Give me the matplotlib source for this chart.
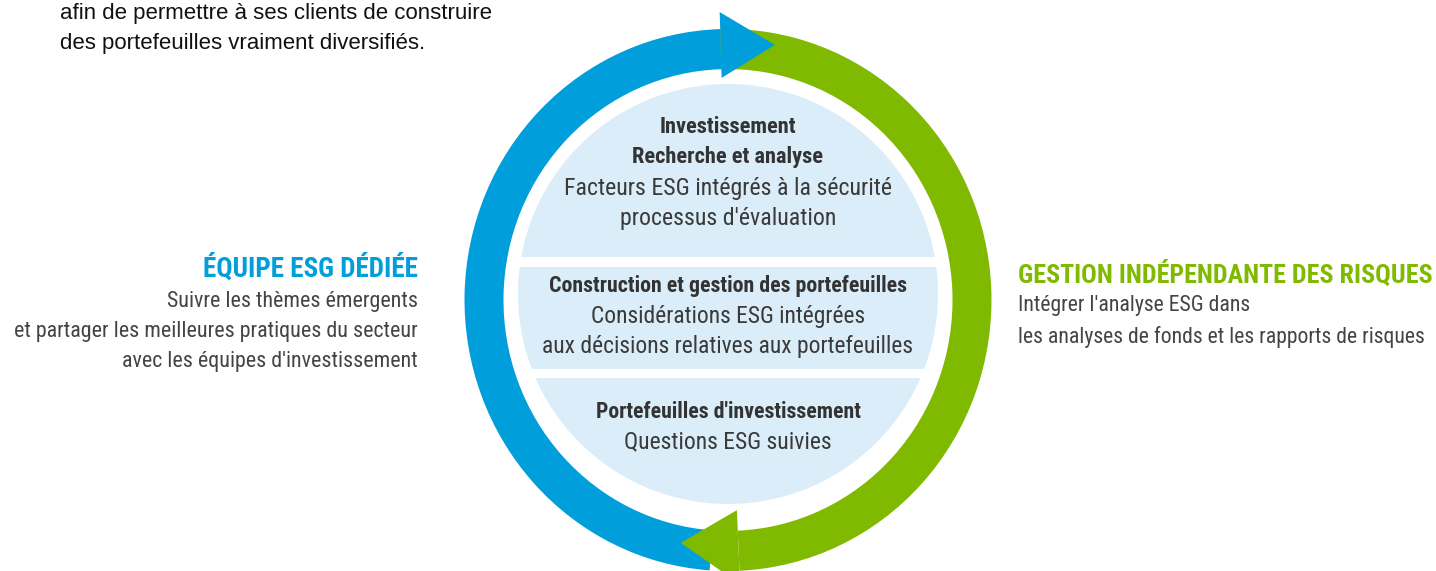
import matplotlib
matplotlib.use("Agg")
import matplotlib.pyplot as plt
from matplotlib import font_manager
from matplotlib.patches import Wedge, Polygon, Circle, Rectangle
from matplotlib.transforms import Affine2D
import numpy as np

W, H = 1436, 571

# texts of the diagram
intro_lines = ["afin de permettre à ses clients de construire",
               "des portefeuilles vraiment diversifiés."]
left_title = "ÉQUIPE ESG DÉDIÉE"
left_lines = ["Suivre les thèmes émergents",
              "et partager les meilleures pratiques du secteur",
              "avec les équipes d'investissement"]
right_title = "GESTION INDÉPENDANTE DES RISQUES"
right_lines = ["Intégrer l'analyse ESG dans",
               "les analyses de fonds et les rapports de risques"]
stage_titles = [["Investissement", "Recherche et analyse"],
                ["Construction et gestion des portefeuilles"],
                ["Portefeuilles d'investissement"]]
stage_texts = [["Facteurs ESG intégrés à la sécurité", "processus d'évaluation"],
               ["Considérations ESG intégrées", "aux décisions relatives aux portefeuilles"],
               ["Questions ESG suivies"]]

BLUE = "#009fdb"
GREEN = "#80ba00"
LIGHT = "#daedf8"
DARK = "#3a3a3a"

names = {f.name for f in font_manager.fontManager.ttflist}
cond = "DejaVu Sans"
for c in ["Roboto Condensed", "Liberation Sans Narrow", "DejaVu Sans Condensed", "Roboto"]:
    if c in names:
        cond = c
        break

fig = plt.figure(figsize=(W / 100, H / 100), dpi=100)
ax = fig.add_axes([0, 0, 1, 1])
ax.set_xlim(0, W)
ax.set_ylim(H, 0)
ax.axis("off")

# ring in unit-circle space (y up)
cx, cy, rx, ry = 728, 300, 263.5, 271
T = Affine2D().scale(rx, -ry).translate(cx, cy) + ax.transData


def pol(r, a):
    a = np.radians(a)
    return (r * np.cos(a), r * np.sin(a))


ax.add_patch(Wedge((0, 0), 1, -87.5, 92, width=0.148, color=GREEN, transform=T, lw=0))
ax.add_patch(Wedge((0, 0), 1, 91.7, 266, width=0.148, color=BLUE, transform=T, lw=0))
ax.add_patch(Polygon([pol(1.063, 91.7), pol(0.958, 79.3), pol(0.82, 91.7)],
                     closed=True, color=BLUE, transform=T, lw=0))
ax.add_patch(Polygon([pol(0.776, -87.5), pol(0.914, -101.3), pol(1.05, -87.5)],
                     closed=True, color=GREEN, transform=T, lw=0))

# inner disk split in three bands
disk = Circle((728, 294), 210, facecolor="none", edgecolor="none")
ax.add_patch(disk)
for y0, y1 in [(83, 257), (267, 369), (378, 506)]:
    band = Rectangle((510, y0), 436, y1 - y0, color=LIGHT, lw=0)
    ax.add_patch(band)
    band.set_clip_path(disk)

fig.canvas.draw()
renderer = fig.canvas.get_renderer()


def block(x, ys, lines, target, size, ha="center", **kw):
    ts = [ax.text(x, y, s, ha=ha, va="center", fontsize=size, **kw) for y, s in zip(ys, lines)]
    wmax = max(t.get_window_extent(renderer).width for t in ts)
    k = target / wmax
    for t in ts:
        t.set_fontsize(size * k)
    return ts


# circle text
block(728, [127, 157], stage_titles[0], 192, 14, family=cond, weight="bold", color="#333333")
block(728, [188, 218], stage_texts[0], 330, 14, family=cond, color=DARK)
block(728, [286], stage_titles[1], 360, 14, family=cond, weight="bold", color="#333333")
block(728, [317, 347], stage_texts[1], 373, 14, family=cond, color=DARK)
block(728, [412], stage_titles[2], 266, 14, family=cond, weight="bold", color="#333333")
block(728, [442], stage_texts[2], 209, 14, family=cond, color=DARK)

# side texts
block(418, [269], [left_title], 215, 16, ha="right", family=cond, weight="bold", color=BLUE)
block(418, [301, 332, 362], left_lines, 406, 14, ha="right", family=cond, color="#444444")
block(1018, [274], [right_title], 414, 16, ha="left", family=cond, weight="bold", color=GREEN)
block(1018, [306, 337], right_lines, 413, 14, ha="left", family=cond, color="#444444")

# intro paragraph
block(60, [13, 43], intro_lines, 433, 15, ha="left", family="Liberation Sans", color="#111111")

fig.savefig("out.png", dpi=100)
